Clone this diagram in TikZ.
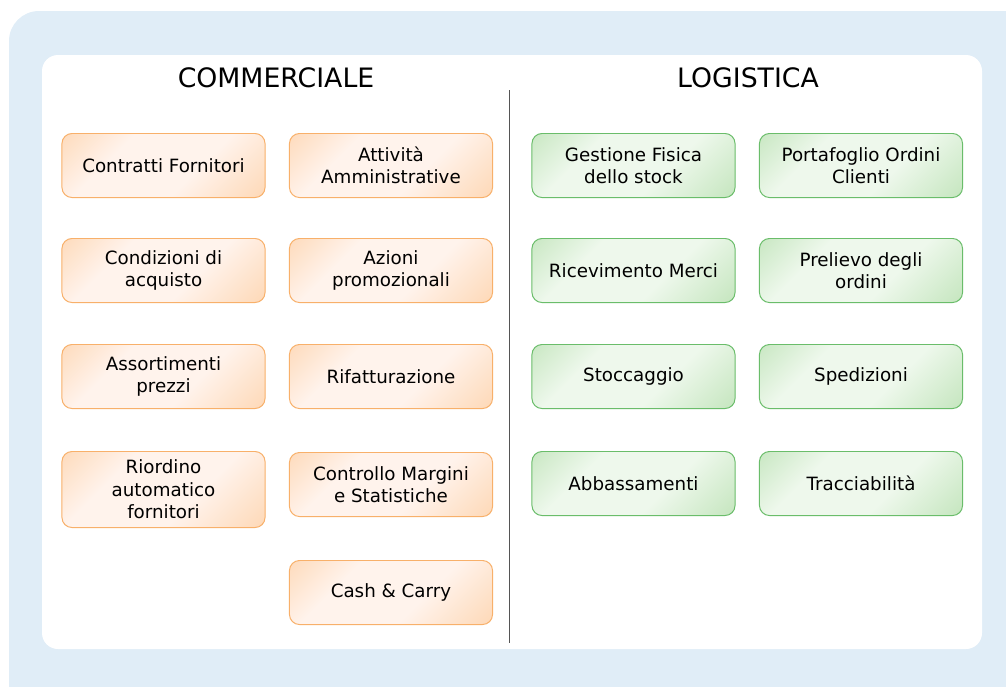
\documentclass[tikz,border=0pt]{standalone}
\usepackage{fontspec}
\setmainfont{DejaVu Sans}
\usetikzlibrary{positioning}

\definecolor{panelblue}{HTML}{E0EDF7}
\definecolor{orline}{HTML}{F8B06A}
\definecolor{orfill}{HTML}{FDC998}
\definecolor{orlight}{HTML}{FFF3EC}
\definecolor{grline}{HTML}{6ABD6A}
\definecolor{grfill}{HTML}{ADDBA4}
\definecolor{grlight}{HTML}{EEF8EC}
\definecolor{divider}{HTML}{555555}

\pgfdeclarehorizontalshading{orshade}{100bp}{color(0bp)=(orfill); color(34bp)=(orlight); color(60bp)=(orlight); color(100bp)=(orfill)}
\pgfdeclarehorizontalshading{grshade}{100bp}{color(0bp)=(grfill); color(34bp)=(grlight); color(60bp)=(grlight); color(100bp)=(grfill)}

\begin{document}
\begin{tikzpicture}[x=0.025cm, y=-0.025cm]
	\tikzstyle{area}=[font=\fontsize{13}{16}\selectfont, text=black, align=center, rounded corners=0.25cm, minimum width=5.075cm, minimum height=1.6cm, inner sep=2pt, line width=0.7pt, anchor=north]
	\tikzstyle{comm}=[area, draw=orline, shading=orshade, shading angle=-45]
	\tikzstyle{logi}=[area, draw=grline, shading=grshade, shading angle=-45]
	\tikzstyle{header}=[font=\fontsize{19}{23}\selectfont, anchor=base]

	\clip (0,0) rectangle (1006,686);
	\fill[panelblue, rounded corners=0.75cm] (9,11) rectangle (1040,720);
	\fill[white, rounded corners=0.4cm] (42,55) rectangle (982,649);

	\node (hc) [header] at (276,87) {COMMERCIALE};
	\node (hl) [header] at (748,87) {LOGISTICA};

	\coordinate (top) at (509,90);
	\coordinate (bot) at (509,643);
	\draw[divider, thin] (top) -- (bot);

	% commerciale
	\node (c1) [comm] at (163.5,133) {Contratti Fornitori};
	\node (c2) [comm] at (391,133) {Attività\\Amministrative};
	\node (c3) [comm] at (163.5,238) {Condizioni di\\acquisto};
	\node (c4) [comm] at (391,238) {Azioni\\promozionali};
	\node (c5) [comm] at (163.5,344) {Assortimenti\\prezzi};
	\node (c6) [comm] at (391,344) {Rifatturazione};
	\node (c7) [comm, minimum height=1.9cm] at (163.5,451) {Riordino\\automatico\\fornitori};
	\node (c8) [comm] at (391,452) {Controllo Margini\\e Statistiche};
	\node (c9) [comm] at (391,560) {Cash \& Carry};

	% logistica
	\node (l1) [logi] at (633.5,133) {Gestione Fisica\\dello stock};
	\node (l2) [logi] at (861,133) {Portafoglio Ordini\\Clienti};
	\node (l3) [logi] at (633.5,238) {Ricevimento Merci};
	\node (l4) [logi] at (861,238) {Prelievo degli\\ordini};
	\node (l5) [logi] at (633.5,344) {Stoccaggio};
	\node (l6) [logi] at (861,344) {Spedizioni};
	\node (l7) [logi] at (633.5,451) {Abbassamenti};
	\node (l8) [logi] at (861,451) {Tracciabilità};
\end{tikzpicture}
\end{document}
